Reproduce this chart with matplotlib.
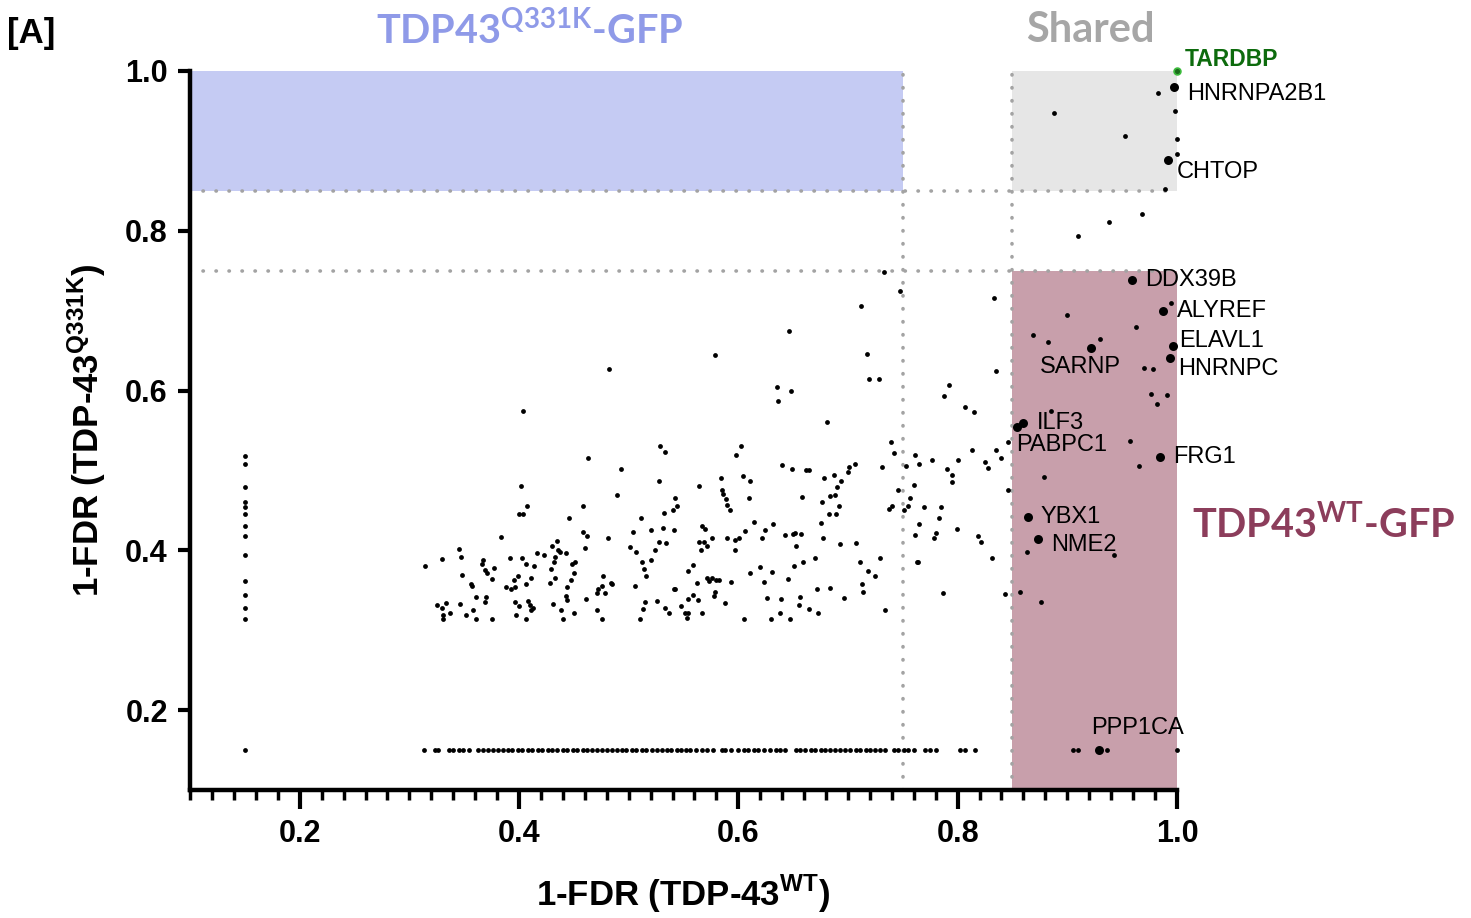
import matplotlib.pyplot as plt
from matplotlib.patches import Rectangle
from matplotlib.ticker import MultipleLocator, NullLocator, FormatStrFormatter

plt.rcParams['font.family'] = 'Liberation Sans'
plt.rcParams['mathtext.fontset'] = 'custom'
plt.rcParams['mathtext.rm'] = 'Liberation Sans'
plt.rcParams['mathtext.bf'] = 'Liberation Sans:bold'
plt.rcParams['mathtext.sf'] = 'Lato:bold'

# thresholds used for the shaded boxes / dotted guides
cut_hi = 0.85
cut_lo = 0.75

# main cloud of proteins (1-FDR WT, 1-FDR Q331K)
cloud_x = [0.404, 0.463, 0.402, 0.407, 0.400, 0.404, 0.458, 0.446, 0.384, 0.458, 0.462, 0.460,
           0.345, 0.347, 0.314, 0.330, 0.367, 0.366, 0.377, 0.369, 0.371, 0.375, 0.348, 0.356,
           0.357, 0.361, 0.370, 0.369, 0.346, 0.325, 0.333, 0.330, 0.331, 0.331, 0.337, 0.352,
           0.358, 0.361, 0.375, 0.392, 0.403, 0.406, 0.414, 0.416, 0.423, 0.430, 0.435, 0.436,
           0.437, 0.433, 0.432, 0.429, 0.443, 0.451, 0.448, 0.450, 0.447, 0.433, 0.428, 0.411,
           0.399, 0.395, 0.406, 0.388, 0.393, 0.396, 0.444, 0.443, 0.444, 0.396, 0.400, 0.408,
           0.410, 0.413, 0.411, 0.431, 0.438, 0.450, 0.440, 0.397, 0.406, 0.461, 0.471, 0.472,
           0.471,
           0.733, 0.747, 0.712, 0.646, 0.579, 0.717, 0.482, 0.719, 0.728, 0.635, 0.648, 0.636,
           0.792, 0.788, 0.807, 0.815, 0.681, 0.739, 0.742, 0.529, 0.533, 0.602, 0.598, 0.493,
           0.528, 0.640, 0.649, 0.662, 0.664, 0.706, 0.701, 0.700, 0.694, 0.690, 0.688, 0.684,
           0.692, 0.689, 0.683, 0.687, 0.678, 0.731, 0.761, 0.765, 0.753, 0.777, 0.790, 0.795,
           0.795, 0.800, 0.813, 0.825, 0.828, 0.489, 0.564, 0.584, 0.585, 0.586, 0.589, 0.590,
           0.592, 0.604, 0.611, 0.610, 0.542, 0.544, 0.540, 0.532, 0.658, 0.676, 0.746, 0.760,
           0.757, 0.755, 0.751, 0.740, 0.737, 0.769, 0.785, 0.783, 0.765, 0.761, 0.780, 0.778,
           0.799, 0.819, 0.821, 0.511, 0.504, 0.520, 0.531, 0.541, 0.528, 0.534, 0.501, 0.507,
           0.524, 0.512, 0.514, 0.516, 0.520, 0.481, 0.567, 0.570, 0.564, 0.569, 0.571, 0.566,
           0.576, 0.590, 0.597, 0.601, 0.606, 0.614, 0.624, 0.622, 0.632, 0.597, 0.643, 0.650,
           0.652, 0.657, 0.653, 0.675, 0.677, 0.693, 0.707, 0.659, 0.651, 0.670, 0.645, 0.711,
           0.718, 0.725, 0.729, 0.713, 0.714, 0.684, 0.672, 0.696, 0.734, 0.764, 0.763, 0.787,
           0.559, 0.554, 0.611, 0.620, 0.631, 0.623, 0.477, 0.476, 0.478, 0.484, 0.485, 0.506,
           0.541, 0.542, 0.562, 0.571, 0.573, 0.576, 0.580, 0.582, 0.593, 0.579, 0.578, 0.559,
           0.563, 0.554, 0.548, 0.551, 0.554, 0.553, 0.567, 0.588, 0.526, 0.515, 0.513, 0.510,
           0.533, 0.537, 0.476, 0.605, 0.626, 0.639, 0.638, 0.630, 0.647, 0.656, 0.655, 0.664,
           0.673,
           0.833, 0.835, 0.835, 0.840, 0.846, 0.846, 0.831, 0.843, 0.857, 0.876, 0.863, 0.943,
           0.879, 0.900, 0.869, 0.882, 0.930, 0.963, 0.995, 0.970, 0.978, 0.976, 0.991, 0.982,
           0.885, 0.957, 0.965,
           0.983, 0.998, 0.888, 0.953, 1.000, 1.000, 0.989, 0.968, 0.938, 0.910]
cloud_y = [0.575, 0.516, 0.480, 0.455, 0.446, 0.445, 0.456, 0.441, 0.417, 0.423, 0.418, 0.403,
           0.402, 0.392, 0.381, 0.389, 0.388, 0.383, 0.378, 0.376, 0.372, 0.364, 0.369, 0.358,
           0.355, 0.341, 0.341, 0.335, 0.333, 0.332, 0.334, 0.328, 0.319, 0.314, 0.321, 0.319,
           0.325, 0.314, 0.314, 0.391, 0.391, 0.383, 0.380, 0.397, 0.394, 0.406, 0.412, 0.400,
           0.398, 0.392, 0.386, 0.377, 0.397, 0.386, 0.383, 0.372, 0.363, 0.365, 0.359, 0.366,
           0.368, 0.363, 0.358, 0.354, 0.352, 0.354, 0.354, 0.343, 0.338, 0.335, 0.330, 0.337,
           0.332, 0.328, 0.325, 0.333, 0.325, 0.321, 0.314, 0.319, 0.314, 0.339, 0.347, 0.352,
           0.325,
           0.749, 0.725, 0.706, 0.674, 0.644, 0.646, 0.627, 0.615, 0.615, 0.605, 0.599, 0.587,
           0.607, 0.593, 0.580, 0.573, 0.561, 0.536, 0.522, 0.531, 0.523, 0.531, 0.519, 0.502,
           0.487, 0.507, 0.502, 0.501, 0.500, 0.508, 0.504, 0.498, 0.487, 0.479, 0.469, 0.468,
           0.455, 0.445, 0.445, 0.494, 0.490, 0.504, 0.519, 0.508, 0.505, 0.513, 0.502, 0.494,
           0.486, 0.513, 0.525, 0.510, 0.503, 0.469, 0.481, 0.490, 0.475, 0.471, 0.464, 0.457,
           0.450, 0.493, 0.487, 0.466, 0.465, 0.456, 0.451, 0.447, 0.467, 0.461, 0.475, 0.482,
           0.466, 0.456, 0.451, 0.455, 0.452, 0.454, 0.454, 0.441, 0.433, 0.419, 0.422, 0.416,
           0.427, 0.418, 0.410, 0.441, 0.423, 0.426, 0.428, 0.425, 0.411, 0.409, 0.404, 0.398,
           0.400, 0.385, 0.377, 0.368, 0.388, 0.416, 0.430, 0.427, 0.411, 0.410, 0.405, 0.401,
           0.415, 0.415, 0.413, 0.416, 0.424, 0.436, 0.426, 0.416, 0.433, 0.400, 0.419, 0.421,
           0.422, 0.421, 0.405, 0.434, 0.415, 0.408, 0.409, 0.386, 0.380, 0.390, 0.364, 0.385,
           0.374, 0.368, 0.390, 0.358, 0.348, 0.353, 0.351, 0.340, 0.325, 0.386, 0.385, 0.346,
           0.382, 0.374, 0.372, 0.379, 0.373, 0.361, 0.368, 0.355, 0.346, 0.359, 0.358, 0.355,
           0.351, 0.351, 0.359, 0.365, 0.362, 0.366, 0.363, 0.363, 0.361, 0.348, 0.343, 0.344,
           0.338, 0.339, 0.330, 0.321, 0.322, 0.315, 0.321, 0.334, 0.336, 0.335, 0.327, 0.314,
           0.328, 0.321, 0.314, 0.314, 0.340, 0.339, 0.321, 0.314, 0.314, 0.342, 0.332, 0.327,
           0.321,
           0.716, 0.625, 0.525, 0.515, 0.535, 0.476, 0.390, 0.345, 0.348, 0.335, 0.398, 0.394,
           0.492, 0.695, 0.670, 0.661, 0.665, 0.680, 0.710, 0.628, 0.627, 0.596, 0.595, 0.583,
           0.574, 0.537, 0.506,
           0.973, 0.950, 0.947, 0.919, 0.915, 0.896, 0.852, 0.821, 0.811, 0.794]

# proteins not quantified in one condition sit on fixed floor values
col_x = 0.15
col_y = [0.518, 0.508, 0.479, 0.460, 0.454, 0.445, 0.431, 0.418, 0.394, 0.362, 0.344,
         0.328, 0.314, 0.150]
floor_y = 0.15
floor_x = [0.313, 0.323, 0.326, 0.336, 0.340, 0.345, 0.349, 0.354,
           0.363, 0.367, 0.372, 0.376, 0.381, 0.385, 0.390, 0.394, 0.399, 0.403, 0.408,
           0.412, 0.417, 0.421, 0.426, 0.430, 0.435, 0.440, 0.444, 0.449, 0.453, 0.458,
           0.462, 0.467, 0.471, 0.476, 0.480, 0.485, 0.489, 0.494, 0.498, 0.503, 0.507,
           0.512, 0.516, 0.521, 0.526, 0.530, 0.535, 0.539, 0.544, 0.548, 0.552, 0.556,
           0.561, 0.567, 0.571, 0.577, 0.585, 0.588, 0.593, 0.600, 0.605, 0.609, 0.614,
           0.618, 0.623, 0.629, 0.634, 0.638, 0.643, 0.653, 0.656, 0.661, 0.666, 0.670,
           0.675, 0.679, 0.684, 0.688, 0.693, 0.697, 0.702, 0.707, 0.711, 0.716, 0.720,
           0.725, 0.729, 0.734, 0.742, 0.746, 0.751, 0.755, 0.760, 0.770, 0.775, 0.780,
           0.802, 0.807, 0.816, 0.905, 0.910, 0.936, 1.000]

# labelled hits
genes = ['HNRNPA2B1', 'CHTOP', 'DDX39B', 'ALYREF', 'ELAVL1', 'HNRNPC', 'SARNP',
         'ILF3', 'PABPC1', 'FRG1', 'YBX1', 'NME2', 'PPP1CA']
gene_x = [0.997, 0.992, 0.959, 0.987, 0.996, 0.994, 0.922, 0.860, 0.854, 0.985,
          0.864, 0.873, 0.929]
gene_y = [0.980, 0.889, 0.738, 0.700, 0.656, 0.641, 0.653, 0.560, 0.555, 0.517,
          0.442, 0.414, 0.150]
bait_name = 'TARDBP'
bait_x = 1.0
bait_y = 1.0

# label offsets in points
offsets = {'HNRNPA2B1': (10, -5), 'CHTOP': (6.5, -8.6), 'DDX39B': (9.4, 0),
           'ALYREF': (10, 0), 'ELAVL1': (5, 3.6), 'HNRNPC': (5.8, -7.9),
           'SARNP': (-37, -13.7), 'ILF3': (9.4, 0), 'PABPC1': (-0.5, -13),
           'FRG1': (9.4, 0), 'YBX1': (9.4, 0), 'NME2': (9.4, -4.5), 'PPP1CA': (-6, 15.8)}

fig = plt.figure(figsize=(14.71, 9.18), dpi=100)
ax = fig.add_axes([0.1292, 0.1394, 0.6709, 0.7833])
ax.set_xlim(0.1, 1.0)
ax.set_ylim(0.1, 1.0)

# shaded quadrants
ax.add_patch(Rectangle((0.1, cut_hi), cut_lo - 0.1, 1.0 - cut_hi, color='#c5cbf3', lw=0, zorder=0))
ax.add_patch(Rectangle((cut_hi, cut_hi), 1.0 - cut_hi, 1.0 - cut_hi, color='#e6e6e6', lw=0, zorder=0))
ax.add_patch(Rectangle((cut_hi, 0.1), 1.0 - cut_hi, cut_lo - 0.1, color='#c89fab', lw=0, zorder=0))

dot = dict(color='#a3a3a3', lw=2.6, linestyle=(0, (0.1, 3.5)), dash_capstyle='round', zorder=1)
ax.axhline(cut_hi, **dot)
ax.axhline(cut_lo, **dot)
ax.axvline(cut_lo, **dot)
ax.axvline(cut_hi, **dot)

ax.scatter(cloud_x, cloud_y, s=12, c='black', lw=0, zorder=3, clip_on=False)
ax.scatter([col_x] * len(col_y), col_y, s=12, c='black', lw=0, zorder=3)
ax.scatter(floor_x, [floor_y] * len(floor_x), s=12, c='black', lw=0, zorder=3, clip_on=False)
ax.scatter(gene_x, gene_y, s=42, c='black', lw=0, zorder=4, clip_on=False)
ax.scatter([bait_x], [bait_y], s=24, c='#1c6b1c', edgecolors='#3dbb3d', lw=1.2, zorder=5, clip_on=False)

for g, gx, gy in zip(genes, gene_x, gene_y):
    ax.annotate(g, (gx, gy), xytext=offsets[g], textcoords='offset points',
                ha='left', va='center', fontsize=17, annotation_clip=False)
ax.annotate(bait_name, (bait_x, bait_y), xytext=(5.8, 8.5), textcoords='offset points',
            ha='left', va='center', fontsize=16.5, fontweight='bold', color='#0d6b0d',
            annotation_clip=False)

for side in ['top', 'right']:
    ax.spines[side].set_visible(False)
for side in ['left', 'bottom']:
    ax.spines[side].set_linewidth(3.2)

ax.xaxis.set_major_locator(MultipleLocator(0.2))
ax.xaxis.set_minor_locator(MultipleLocator(0.02))
ax.yaxis.set_major_locator(MultipleLocator(0.2))
ax.yaxis.set_minor_locator(NullLocator())
ax.xaxis.set_major_formatter(FormatStrFormatter('%.1f'))
ax.yaxis.set_major_formatter(FormatStrFormatter('%.1f'))
ax.tick_params(axis='x', which='major', length=14, width=3, pad=7, labelsize=22)
ax.tick_params(axis='x', which='minor', length=7.5, width=2.5)
ax.tick_params(axis='y', which='major', length=9, width=3, pad=7, labelsize=22)
for lab in ax.get_xticklabels() + ax.get_yticklabels():
    lab.set_fontweight('bold')

ax.set_xlabel(r'1-FDR (TDP-43$^{\mathbf{WT}}$)', fontsize=25, fontweight='bold', labelpad=17)
ax.set_ylabel(r'1-FDR (TDP-43$^{\mathbf{Q331K}}$)', fontsize=25, fontweight='bold', labelpad=12)

fig.text(0.005, 0.963, '[A]', fontsize=25, fontweight='bold', ha='left', va='center')
fig.text(0.360, 0.967, r'TDP43$^{\mathsf{Q331K}}$-GFP', family='Lato', fontweight='bold',
         fontsize=28.5, color='#8f9ae8', ha='center', va='center')
fig.text(0.741, 0.967, 'Shared', family='Lato', fontweight='bold', fontsize=30,
         color='#a6a6a6', ha='center', va='center')
fig.text(0.900, 0.428, r'TDP43$^{\mathsf{WT}}$-GFP', family='Lato', fontweight='bold',
         fontsize=28.5, color='#8c3d5b', ha='center', va='center')

fig.savefig('out.png', dpi=100)
